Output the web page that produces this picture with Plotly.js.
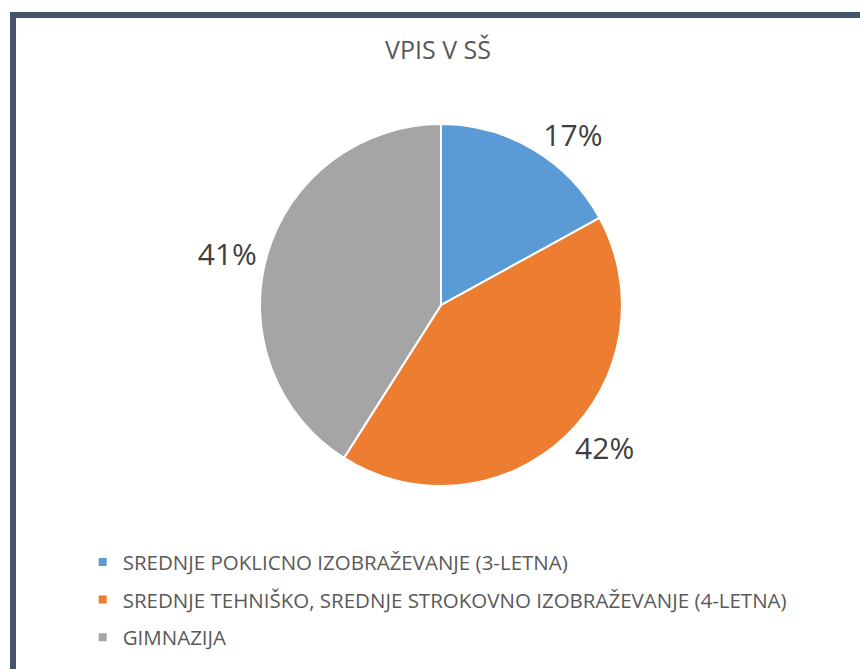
<!DOCTYPE html>
<html>
<head>
<meta charset="utf-8">
<script src="https://cdn.plot.ly/plotly-3.0.1.min.js"></script>
<style>
  html, body { margin: 0; padding: 0; background: #ffffff; }
  #wrap { position: absolute; left: 10px; top: 12px; width: 850px; height: 657px;
          border-left: 6px solid #44546a; border-top: 6px solid #44546a; background: #fff; }
  #chart { width: 844px; height: 651px; }
</style>
</head>
<body>
<div id="wrap"><div id="chart"></div></div>
<script>
const title = "VPIS V SŠ";
const categories = [
  "SREDNJE POKLICNO IZOBRAŽEVANJE (3-LETNA)",
  "SREDNJE TEHNIŠKO, SREDNJE STROKOVNO IZOBRAŽEVANJE (4-LETNA)",
  "GIMNAZIJA"
];
const values = [17, 42, 41];
const colors = ["#5b9bd5", "#ed7d31", "#a5a5a5"];

const font = "'Open Sans', 'Liberation Sans', sans-serif";

const traces = [{
  type: "pie",
  labels: categories,
  values: values,
  sort: false,
  direction: "clockwise",
  rotation: 0,
  marker: { colors: colors, line: { color: "#ffffff", width: 2 } },
  textinfo: "percent",
  textposition: "outside",
  outsidetextfont: { family: font, size: 30, color: "#404040" },
  texttemplate: "%{percent:.0%}",
  showlegend: false,
  hoverinfo: "label+percent",
  domain: { x: [0.289, 0.718], y: [0.281, 0.837] }
}];

categories.forEach((c, i) => {
  traces.push({
    type: "scatter", mode: "markers",
    x: [null], y: [null],
    name: c,
    legendgroup: "g" + i,
    marker: { symbol: "square", size: 8, color: colors[i] },
    showlegend: true,
    hoverinfo: "skip"
  });
});

const layout = {
  width: 844, height: 651,
  margin: { l: 0, r: 0, t: 0, b: 0 },
  paper_bgcolor: "#ffffff",
  plot_bgcolor: "rgba(0,0,0,0)",
  font: { family: font, color: "#595959" },
  title: { text: title, font: { family: font, size: 25, color: "#595959" },
           x: 0.5, xanchor: "center", y: 0.95, yanchor: "middle" },
  xaxis: { visible: false },
  yaxis: { visible: false },
  showlegend: true,
  legend: {
    orientation: "v",
    x: 0.079, xanchor: "left",
    y: 0.195, yanchor: "top",
    font: { family: font, size: 20.5, color: "#595959" },
    tracegroupgap: 8,
    itemsizing: "trace",
    bgcolor: "rgba(0,0,0,0)"
  }
};

Plotly.newPlot("chart", traces, layout, { displayModeBar: false });
</script>
</body>
</html>
